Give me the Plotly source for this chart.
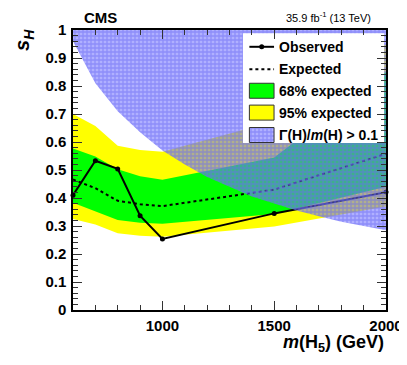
import plotly.graph_objects as go

# Mass points (GeV) and the 95% CL limits on s_H
mass = [600, 700, 800, 900, 1000, 1500, 2000]
observed = [0.41, 0.533, 0.504, 0.337, 0.254, 0.345, 0.421]
expected = [0.466, 0.435, 0.39, 0.378, 0.371, 0.43, 0.558]
band68_low = [0.383, 0.352, 0.321, 0.312, 0.308, 0.343, 0.44]
band68_high = [0.577, 0.548, 0.503, 0.478, 0.465, 0.545, 0.85]
band95_low = [0.325, 0.305, 0.274, 0.265, 0.262, 0.298, 0.37]
band95_high = [0.70, 0.657, 0.587, 0.571, 0.565, 0.673, 0.95]

# Lower edge of the region where Gamma(H)/m(H) > 0.1
width_mass = [600, 700, 800, 900, 1000, 1100, 1200, 1300, 1400, 1500, 1600, 1700, 1800, 1900, 2000]
width_limit = [0.96, 0.81, 0.71, 0.635, 0.57, 0.52, 0.475, 0.44, 0.405, 0.38, 0.355, 0.335, 0.315, 0.30, 0.285]

legend_labels = ["Observed", "Expected", "68% expected", "95% expected", "Γ(H)/<i>m</i>(H) > 0.1"]

X_RANGE = [600, 2000]
Y_RANGE = [0, 1]

FONT = "Liberation Sans, Arial, Helvetica, sans-serif"
GREEN = "#00FF00"
YELLOW = "#FFFF00"
HATCH = dict(shape="+", fgcolor="#6A6AF5", bgcolor="rgba(110,110,255,0.55)", size=4, solidity=0.55)

fig = go.Figure()

# 95% band
fig.add_trace(go.Scatter(x=mass, y=band95_low, mode="lines", line=dict(width=0), hoverinfo="skip"))
fig.add_trace(
    go.Scatter(x=mass, y=band95_high, mode="lines", line=dict(width=0), fill="tonexty", fillcolor=YELLOW)
)

# 68% band
fig.add_trace(go.Scatter(x=mass, y=band68_low, mode="lines", line=dict(width=0), hoverinfo="skip"))
fig.add_trace(
    go.Scatter(x=mass, y=band68_high, mode="lines", line=dict(width=0), fill="tonexty", fillcolor=GREEN)
)

# Expected and observed limits
fig.add_trace(go.Scatter(x=mass, y=expected, mode="lines", line=dict(color="black", width=2, dash="dot")))
fig.add_trace(
    go.Scatter(
        x=mass,
        y=observed,
        mode="lines+markers",
        line=dict(color="black", width=2),
        marker=dict(color="black", size=5),
        cliponaxis=False,
    )
)

# Hatched large-width region, drawn on top of everything
fig.add_trace(go.Scatter(x=width_mass, y=width_limit, mode="lines", line=dict(width=0), hoverinfo="skip"))
fig.add_trace(
    go.Scatter(
        x=width_mass,
        y=[Y_RANGE[1]] * len(width_mass),
        mode="lines",
        line=dict(width=0),
        fill="tonexty",
        fillcolor="rgba(0,0,0,0)",
        fillpattern=HATCH,
    )
)

# Legend drawn by hand on an overlay axis (0-1 over the plot area)
box_x = [0.543, 0.994, 0.994, 0.543, 0.543]
box_y = [0.596, 0.596, 0.988, 0.988, 0.596]
fig.add_trace(
    go.Scatter(
        x=box_x, y=box_y, mode="lines", line=dict(width=0), fill="toself", fillcolor="white",
        xaxis="x2", yaxis="y2",
    )
)

key_x0, key_x1 = 0.5635, 0.6423
text_x = 0.652
row_y = [0.940, 0.860, 0.783, 0.705, 0.625]
half_h = 0.0268

fig.add_trace(
    go.Scatter(
        x=[key_x0, (key_x0 + key_x1) / 2, key_x1], y=[row_y[0]] * 3, mode="lines",
        line=dict(color="black", width=2), xaxis="x2", yaxis="y2",
    )
)
fig.add_trace(
    go.Scatter(
        x=[(key_x0 + key_x1) / 2], y=[row_y[0]], mode="markers",
        marker=dict(color="black", size=5), xaxis="x2", yaxis="y2",
    )
)
fig.add_trace(
    go.Scatter(
        x=[key_x0, key_x1], y=[row_y[1]] * 2, mode="lines",
        line=dict(color="black", width=2, dash="dot"), xaxis="x2", yaxis="y2",
    )
)

for row, fill_color, pattern in [(2, GREEN, None), (3, YELLOW, None), (4, "rgba(0,0,0,0)", HATCH)]:
    yc = row_y[row]
    kw = dict(fillpattern=pattern) if pattern else {}
    fig.add_trace(
        go.Scatter(
            x=[key_x0, key_x1, key_x1, key_x0, key_x0],
            y=[yc - half_h, yc - half_h, yc + half_h, yc + half_h, yc - half_h],
            mode="lines",
            line=dict(color="#333333", width=1),
            fill="toself",
            fillcolor=fill_color,
            xaxis="x2",
            yaxis="y2",
            **kw,
        )
    )

annotations = []
for label, yc in zip(legend_labels, row_y):
    annotations.append(
        dict(
            x=text_x, y=yc, xref="paper", yref="paper", text=f"<b>{label}</b>", showarrow=False,
            xanchor="left", yanchor="middle", font=dict(family=FONT, size=14, color="black"),
        )
    )

annotations += [
    dict(
        x=0.029, y=1.046, xref="paper", yref="paper", text="<b>CMS</b>", showarrow=False,
        xanchor="left", yanchor="middle", font=dict(family=FONT, size=15, color="black"),
    ),
    dict(
        x=0.957, y=1.046, xref="paper", yref="paper", text="35.9 fb<sup>-1</sup> (13 TeV)", showarrow=False,
        xanchor="right", yanchor="middle", font=dict(family=FONT, size=11, color="black"),
    ),
    dict(
        x=1.0, y=-0.118, xref="paper", yref="paper", text="<b><i>m</i>(H<sub>5</sub>) (GeV)</b>",
        showarrow=False, xanchor="right", yanchor="middle", font=dict(family=FONT, size=18, color="black"),
    ),
    dict(
        x=-0.156, y=0.965, xref="paper", yref="paper", text="<b><i>s</i><sub><i>H</i></sub></b>",
        showarrow=False, textangle=-90, xanchor="center", yanchor="middle",
        font=dict(family=FONT, size=20, color="black"),
    ),
]

axis_style = dict(
    showgrid=False,
    zeroline=False,
    showline=True,
    linecolor="black",
    linewidth=1.5,
    mirror="ticks",
    ticks="inside",
    ticklen=9,
    tickwidth=1.2,
    tickcolor="#333333",
    tickfont=dict(family=FONT, size=15, color="black", weight="bold"),
)

# The page adds an 8px body margin, so margins are trimmed to keep the plot box in place
fig.update_layout(
    width=407,
    height=365,
    margin=dict(l=65, r=21, t=22, b=63),
    paper_bgcolor="white",
    plot_bgcolor="white",
    showlegend=False,
    annotations=annotations,
    xaxis=dict(
        range=X_RANGE, dtick=500, tick0=0, ticklabelstandoff=1,
        minor=dict(dtick=100, ticks="inside", ticklen=5, tickwidth=1, tickcolor="#333333"),
        **axis_style,
    ),
    yaxis=dict(
        range=Y_RANGE, dtick=0.1, ticklabelstandoff=2,
        minor=dict(dtick=0.02, ticks="inside", ticklen=5, tickwidth=1, tickcolor="#333333"),
        **axis_style,
    ),
    xaxis2=dict(range=[0, 1], overlaying="x", anchor="y2", visible=False, fixedrange=True),
    yaxis2=dict(range=[0, 1], overlaying="y", anchor="x2", visible=False, fixedrange=True),
)

fig.write_html("out.html")
